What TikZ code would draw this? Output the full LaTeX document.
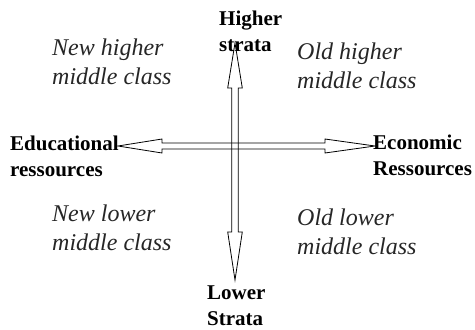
\documentclass[tikz,border=0pt]{standalone}
\usepackage{fontspec}
\setmainfont{Liberation Serif}
\usetikzlibrary{calc}
\tikzset{
  axislabel/.style={anchor=base west, inner sep=0pt, align=left, font=\fontsize{21}{25.5}\selectfont\bfseries},
  classlabel/.style={anchor=base west, inner sep=0pt, align=left, font=\fontsize{24}{28.5}\selectfont\itshape, text=black!85},
  hollowarrow/.style={draw=black, line width=0.8pt, line join=miter}
}
\begin{document}
\begin{tikzpicture}[x=1pt,y=-1pt]
\useasboundingbox (0,0) rectangle (475,330);
% labels (anchored at the baseline of their last line)
\node[axislabel] (hi) at (219,51) {Higher\\strata};
\node[axislabel] (lo) at (207,325) {Lower\\Strata};
\node[axislabel] (edu) at (10,176) {Educational\\ressources};
\node[axislabel] (eco) at (373,175) {Economic\\Ressources};
\node[classlabel] (nh) at (52,84) {New higher\\middle class};
\node[classlabel] (oh) at (297,88) {Old higher\\middle class};
\node[classlabel] (nl) at (52,250) {New lower\\middle class};
\node[classlabel] (ol) at (297,254) {Old lower\\middle class};
% arrow tips
\coordinate (tT) at (235,43);
\coordinate (tB) at (235,280);
\coordinate (tL) at (118,146);
\coordinate (tR) at (375,146);
% vertical hollow double arrow
\draw[hollowarrow] (tT) -- ($(tT)+(7.3,45)$) -- ($(tT)+(3.3,45)$) -- ($(tB)+(3.3,-48)$) -- ($(tB)+(7.3,-48)$)
  -- (tB) -- ($(tB)+(-7.3,-48)$) -- ($(tB)+(-3.3,-48)$) -- ($(tT)+(-3.3,45)$) -- ($(tT)+(-7.3,45)$) -- cycle;
% horizontal hollow double arrow
\draw[hollowarrow] (tL) -- ($(tL)+(44,-7)$) -- ($(tL)+(44,-3)$) -- ($(tR)+(-50,-3)$) -- ($(tR)+(-50,-7)$)
  -- (tR) -- ($(tR)+(-50,7)$) -- ($(tR)+(-50,3)$) -- ($(tL)+(44,3)$) -- ($(tL)+(44,7)$) -- cycle;
\end{tikzpicture}
\end{document}
